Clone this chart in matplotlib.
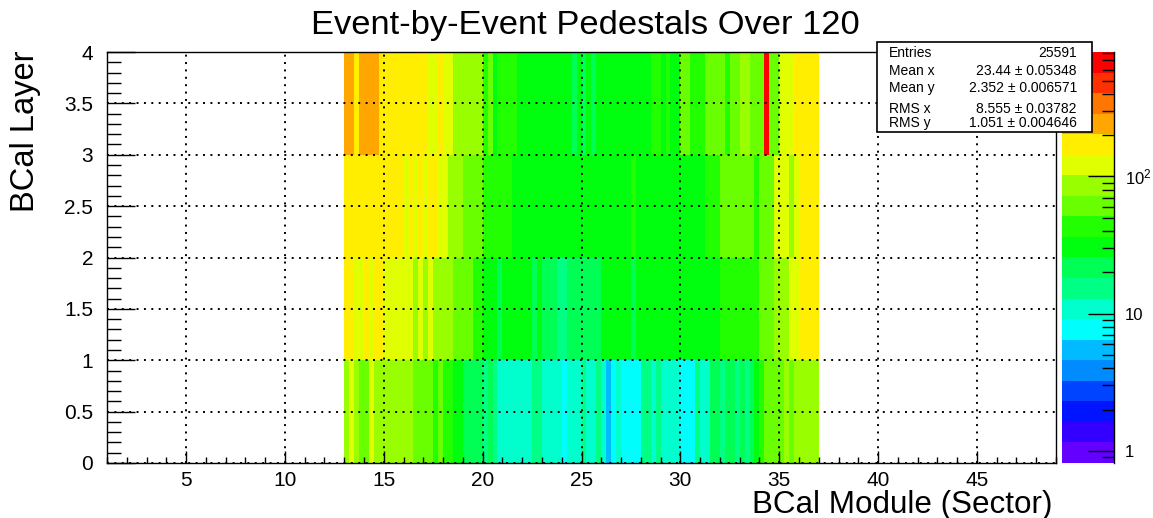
import colorsys
import numpy as np
import matplotlib
matplotlib.use("Agg")
import matplotlib.pyplot as plt
from matplotlib.colors import ListedColormap, BoundaryNorm
from matplotlib.patches import Rectangle
from matplotlib.ticker import MultipleLocator, FixedLocator, FixedFormatter, LogLocator, NullFormatter, FuncFormatter

plt.rcParams['font.family'] = ['Liberation Sans', 'DejaVu Sans']
plt.rcParams['mathtext.fontset'] = 'custom'
plt.rcParams['mathtext.rm'] = 'Liberation Sans'

# modules 13..36 are read out, 4 sectors per module
first_module = 13
n_modules = 24
sectors_per_module = 4
layer_edges = [0, 1, 2, 3, 4]

# pedestal counts per sector, one list per BCal layer
layer1 = [84, 118, 80, 62, 58, 124, 88, 82,
          86, 90, 84, 79, 88, 82,
          66, 61, 58, 63,
          45, 55, 44, 40,
          33, 31,
          22, 24, 21, 20,
          16, 20, 15,
          11,
          11, 10, 11, 12,
          11, 10,
          14, 15,
          11, 12, 10, 11,
          8, 11,
          11, 10,
          14,
          11, 12,
          15,
          11,
          5,
          8,
          10,
          8, 7, 8, 8,
          14, 15,
          11,
          14,
          11, 10, 12, 11,
          8, 7, 8,
          15,
          11, 12,
          21, 20,
          15,
          22, 20,
          16,
          21,
          14,
          22,
          30,
          42,
          56, 62, 60, 58,
          84,
          63,
          82, 88, 91, 86, 80]

layer2 = [165, 158, 131, 126, 150, 120, 155, 162,
          128, 122, 117, 125, 119, 112,
          94, 108, 90, 112,
          88, 83, 79, 86,
          68, 62, 58, 55,
          46, 42,
          34, 32, 29,
          24,
          30, 32, 29, 34, 31, 28,
          23,
          27,
          22, 21, 23,
          16, 17,
          20, 22, 21, 23, 20, 22, 24,
          28, 30, 27, 31, 29, 28,
          22,
          30, 28, 31, 29, 27, 30, 32, 29, 28, 31, 30, 29, 27, 30, 33, 31, 29,
          40, 43, 45, 42, 39, 44, 46, 48,
          55, 61, 66,
          80, 86, 92,
          108, 115,
          152, 165, 174, 160]

layer3 = [176, 170, 182, 165, 173, 178, 168, 171, 185, 174, 167, 162,
          128, 156, 122, 150, 119, 153, 148, 124, 117,
          96, 90, 85,
          68, 64, 59, 55,
          49, 46, 44, 47, 45, 41,
          34, 33, 30, 31, 29, 32, 30, 28, 31, 33, 30, 29,
          31, 32, 30, 28, 31, 30, 33, 29, 31, 30, 32, 34,
          40,
          31, 30, 33, 29, 32, 30, 28, 31, 30, 32, 31, 34, 33, 35,
          39, 42, 44,
          55, 60, 58, 63, 61, 57, 59,
          47,
          56, 62, 65,
          110, 118, 123,
          96,
          130,
          158, 170, 176, 165]

layer4 = [241, 236, 172, 244, 238, 247, 233, 168,
          175, 178, 170, 166, 181, 174, 169, 163, 158,
          124, 118, 152, 121, 115,
          92, 88, 84, 89, 83, 80,
          47, 58, 34,
          44, 42, 45, 41, 35,
          31, 29, 32, 30, 33, 28, 31, 30, 29, 32,
          22, 30, 23, 31, 22,
          30, 32, 29, 31, 28, 30, 33, 31, 29, 30, 32,
          40, 44,
          33, 39, 31, 34,
          57, 60, 45, 42, 47,
          62, 58, 64, 59, 48, 61, 66,
          78, 82, 63, 60, 57,
          690,
          62, 56,
          118, 125, 113,
          165, 172, 178, 169, 160]

stats_labels = ['Entries', 'Mean x', 'Mean y', 'RMS x', 'RMS y']
stats_values = ['25591', '23.44 \u00b1 0.05348', '2.352 \u00b1 0.006571',
                '8.555 \u00b1 0.03782', '1.051 \u00b1 0.004646']

zmin, zmax = 0.815, 807.0
n_levels = 20

W, H = 1153, 518


def fx(px):
    return px / W


def fy(py):
    return 1 - py / H


# ROOT "pretty" palette: 50 hues from violet to red, 20 contours picked from it
pretty = [colorsys.hls_to_rgb((280 - (i + 1) * 5.6) / 360.0, 0.5, 1.0) for i in range(50)]
level_colors = [pretty[int((j + 0.99) * 50 / n_levels)] for j in range(n_levels)]
cmap = ListedColormap(level_colors)
levels = np.logspace(np.log10(zmin), np.log10(zmax), n_levels + 1)
norm = BoundaryNorm(levels, n_levels)

counts = np.array([layer1, layer2, layer3, layer4])
x_edges = first_module + np.arange(n_modules * sectors_per_module + 1) / sectors_per_module

fig = plt.figure(figsize=(W / 100, H / 100), dpi=100)
ax = fig.add_axes([fx(107), fy(463), fx(1056) - fx(107), fy(52) - fy(463)])
ax.pcolormesh(x_edges, layer_edges, counts, cmap=cmap, norm=norm)

ax.set_xlim(1, 49)
ax.set_ylim(0, 4)
ax.xaxis.set_major_locator(MultipleLocator(5))
ax.xaxis.set_minor_locator(MultipleLocator(1))
ax.yaxis.set_major_locator(MultipleLocator(0.5))
ax.yaxis.set_minor_locator(MultipleLocator(0.1))
ax.xaxis.set_major_formatter(FuncFormatter(lambda v, p: '{:g}'.format(v)))
ax.yaxis.set_major_formatter(FuncFormatter(lambda v, p: '{:g}'.format(v)))
ax.tick_params(which='both', direction='in', top=False, right=False, width=1, labelsize=15)
ax.tick_params(axis='x', which='major', length=8.6, pad=6)
ax.tick_params(axis='x', which='minor', length=4.3)
ax.tick_params(axis='y', which='major', length=20, pad=10)
ax.tick_params(axis='y', which='minor', length=10)
ax.set_axisbelow(False)
ax.grid(True, which='major', color='black', linestyle=(0, (1, 2.8)), linewidth=1.4)
for s in ax.spines.values():
    s.set_linewidth(1)

# palette axis on the right
cax = fig.add_axes([fx(1061.5), fy(463), fx(1114) - fx(1061.5), fy(52) - fy(463)])
cax.set_yscale('log')
mids = np.sqrt(levels[:-1] * levels[1:])
cax.pcolormesh([0, 1], levels, mids.reshape(-1, 1), cmap=cmap, norm=norm)
cax.set_xlim(0, 1)
cax.set_ylim(zmin, zmax)
cax.set_xticks([])
cax.yaxis.tick_right()
cax.yaxis.set_major_locator(FixedLocator([1, 10, 100]))
cax.yaxis.set_major_formatter(FixedFormatter(['1', '10', r'$\mathregular{10^{2}}$']))
cax.yaxis.set_minor_locator(LogLocator(base=10, subs=np.arange(2, 10)))
cax.yaxis.set_minor_formatter(NullFormatter())
cax.tick_params(axis='y', which='major', direction='in', length=19, width=1, labelsize=12, pad=8)
cax.tick_params(axis='y', which='minor', direction='in', length=8.6, width=1)
for side in ['top', 'bottom', 'left']:
    cax.spines[side].set_visible(False)
cax.spines['right'].set_linewidth(1)

fig.text(fx(585), fy(34), 'Event-by-Event Pedestals Over 120', ha='center', va='baseline', fontsize=24.8)
fig.text(fx(1053), fy(513), 'BCal Module (Sector)', ha='right', va='baseline', fontsize=22.6)
fig.text(fx(41), fy(50), 'BCal Layer', rotation=90, ha='right', va='top', fontsize=23.5)

# statistics box
fig.add_artist(Rectangle((fx(877), fy(132)), fx(1092) - fx(877), fy(42) - fy(132),
                         transform=fig.transFigure, facecolor='white', edgecolor='black',
                         linewidth=1.2, zorder=10))
baselines = [57, 75, 92, 113, 127]
for lab, val, yb in zip(stats_labels, stats_values, baselines):
    fig.text(fx(889), fy(yb), lab, ha='left', va='baseline', fontsize=10, zorder=11)
    fig.text(fx(1077), fy(yb), val, ha='right', va='baseline', fontsize=10, zorder=11)

fig.savefig('out.png', dpi=100)
